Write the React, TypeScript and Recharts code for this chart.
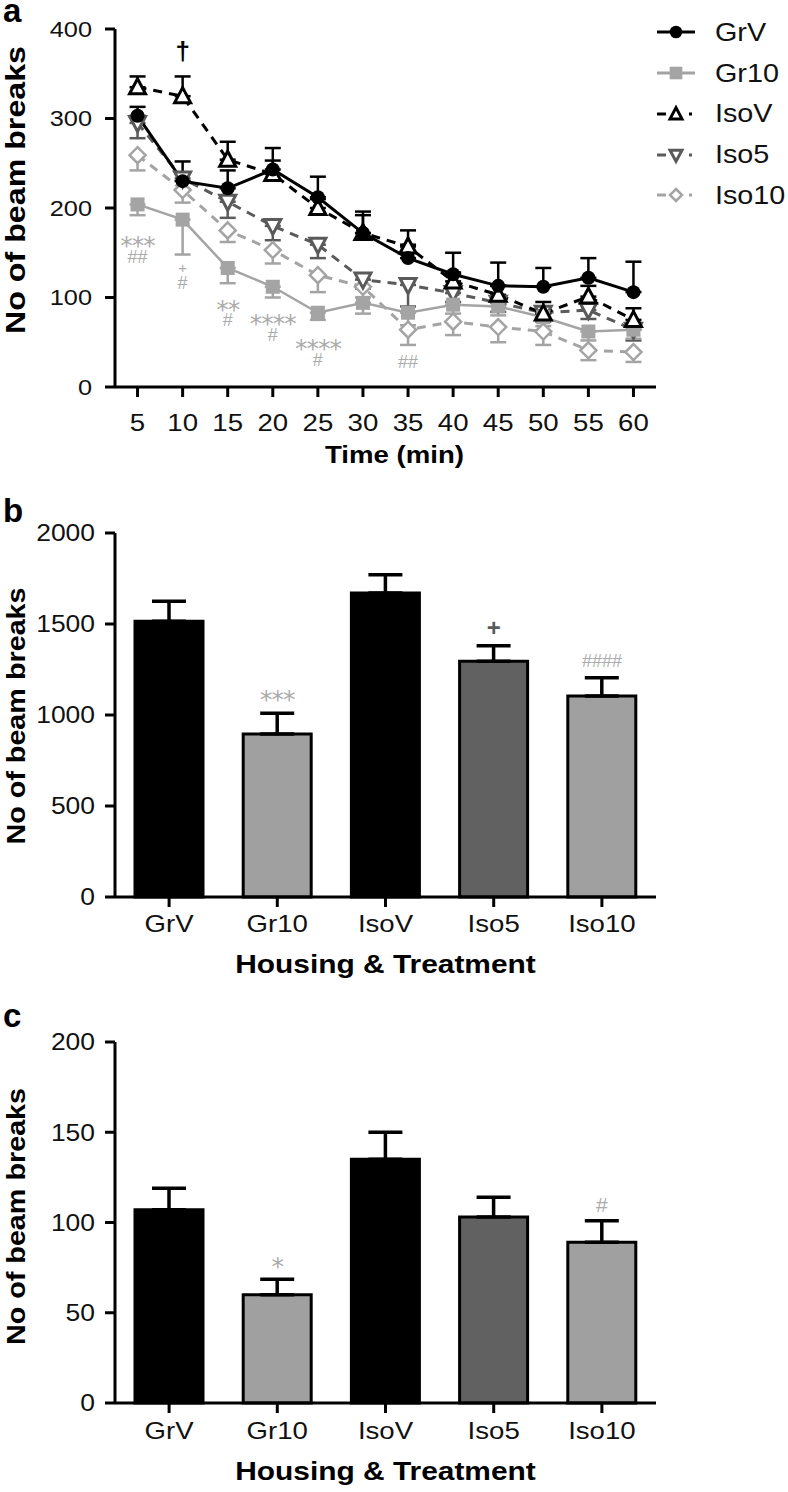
import React from 'react';
import { ComposedChart, Line, Bar, Cell, XAxis, YAxis, ErrorBar, Legend, ReferenceDot } from 'recharts';

const FONT = "'Liberation Sans', Arial, Helvetica, sans-serif";
const STAR_FONT = "'DejaVu Sans', sans-serif";
const SX = 1.15;
const BLACK = '#000000';
const LIGHT = '#a4a4a4';
const DARK = '#5a5a5a';
const ANNO = '#ababab';
const BAR_LIGHT = '#a0a0a0';
const BAR_DARK = '#616161';

// ---------- Panel a: beam breaks per 5-min bin ----------
const times = [5, 10, 15, 20, 25, 30, 35, 40, 45, 50, 55, 60];
const timeTicks = [5, 10, 15, 20, 25, 30, 35, 40, 45, 50, 55, 60];
const yTicksA = [0, 100, 200, 300, 400];

const grV = [303, 230, 222, 243, 212, 172, 144, 126, 113, 112, 122, 106];
const grVErr = [10, 22, 20, 24, 23, 20, 15, 24, 26, 21, 22, 34];
const gr10 = [204, 187, 133, 112, 83, 94, 83, 92, 90, 78, 62, 64];
const gr10Err = [12, 39, 17, 12, 8, 12, 14, 10, 10, 10, 10, 10];
const isoV = [335, 325, 254, 238, 200, 172, 157, 118, 103, 82, 101, 75];
const isoVErr = [12, 22, 20, 15, 10, 24, 18, 10, 10, 13, 12, 13];
const iso5 = [295, 233, 207, 180, 159, 120, 114, 105, 94, 83, 86, 64];
const iso5Err = [17, 12, 18, 16, 15, 10, 24, 10, 10, 10, 10, 12];
const iso10 = [259, 220, 175, 153, 125, 112, 64, 73, 67, 62, 41, 39];
const iso10Err = [17, 14, 13, 15, 19, 12, 17, 15, 17, 15, 11, 11];

// significance marks (top line centred at value, optional second line below)
const annoATimes = [10, 5, 10, 15, 20, 25, 35];
const annoAValues = [374, 165, 133, 94, 78, 50, 29];
const annoATops = ['†', '***', '+', '**', '****', '****', '##'];
const annoABottoms = ['', '##', '#', '#', '#', '#', ''];

// ---------- Panels b & c ----------
const groups = ['GrV', 'Gr10', 'IsoV', 'Iso5', 'Iso10'];
const totalBeams = [1515, 895, 1670, 1295, 1105];
const totalBeamsErr = [110, 115, 100, 85, 100];
const yTicksB = [0, 500, 1000, 1500, 2000];
const annoBGroups = ['Gr10', 'Iso5', 'Iso10'];
const annoBValues = [1121, 1484, 1302];
const annoBTexts = ['***', '+', '####'];

const centreBeams = [107, 60, 135, 103, 89];
const centreBeamsErr = [12, 8.5, 15, 11, 12];
const yTicksC = [0, 50, 100, 150, 200];
const annoCGroups = ['Gr10', 'Iso10'];
const annoCValues = [79, 110];
const annoCTexts = ['*', '#'];

// ---------- styles ----------
type Marker = 'circle' | 'square' | 'triUp' | 'triDown' | 'diamond';
const lineStyles: Record<string, { color: string; dash?: string; marker: Marker; width: number }> = {
  GrV: { color: BLACK, marker: 'circle', width: 3 },
  Gr10: { color: LIGHT, marker: 'square', width: 2.5 },
  IsoV: { color: BLACK, dash: '9 7', marker: 'triUp', width: 3 },
  Iso5: { color: DARK, dash: '9 7', marker: 'triDown', width: 3 },
  Iso10: { color: LIGHT, dash: '9 7', marker: 'diamond', width: 3 },
};
const legendOrder = ['GrV', 'Gr10', 'IsoV', 'Iso5', 'Iso10'];
const drawOrder = ['Iso10', 'Iso5', 'Gr10', 'IsoV', 'GrV'];
const barColors = [BLACK, BAR_LIGHT, BLACK, BAR_DARK, BAR_LIGHT];

const lineData = times.map((t, i) => ({
  t,
  GrV: grV[i], GrV_e: [0, grVErr[i]],
  Gr10: gr10[i], Gr10_e: [gr10Err[i], 0],
  IsoV: isoV[i], IsoV_e: [0, isoVErr[i]],
  Iso5: iso5[i], Iso5_e: [iso5Err[i], 0],
  Iso10: iso10[i], Iso10_e: [iso10Err[i], 0],
}));
const totalData = groups.map((g, i) => ({ g, v: totalBeams[i], e: [0, totalBeamsErr[i]] }));
const centreData = groups.map((g, i) => ({ g, v: centreBeams[i], e: [0, centreBeamsErr[i]] }));

function markerShape(m: Marker, cx: number, cy: number, color: string, key?: string, scale = 1) {
  const s = scale;
  switch (m) {
    case 'circle':
      return <circle key={key} cx={cx} cy={cy} r={7 * s} fill={color} />;
    case 'square':
      return <rect key={key} x={cx - 7 * s} y={cy - 7 * s} width={14 * s} height={14 * s} fill={color} />;
    case 'triUp':
      return <polygon key={key} points={`${cx},${cy - 8.5 * s} ${cx - 8 * s},${cy + 6.5 * s} ${cx + 8 * s},${cy + 6.5 * s}`} fill="#fff" stroke={color} strokeWidth={3} strokeLinejoin="miter" />;
    case 'triDown':
      return <polygon key={key} points={`${cx - 8 * s},${cy - 6.5 * s} ${cx + 8 * s},${cy - 6.5 * s} ${cx},${cy + 8.5 * s}`} fill="#fff" stroke={color} strokeWidth={3} strokeLinejoin="miter" />;
    case 'diamond':
    default:
      return <polygon key={key} points={`${cx},${cy - 8 * s} ${cx + 8 * s},${cy} ${cx},${cy + 8 * s} ${cx - 8 * s},${cy}`} fill="#fff" stroke={color} strokeWidth={2.5} />;
  }
}

const makeDot = (name: string) => (p: any) => {
  const st = lineStyles[name];
  return markerShape(st.marker, p.cx, p.cy, st.color, `${name}-${p.index}`);
};

const yTick = (size: number) => (p: any) => (
  <text
    transform={`translate(${p.x},${p.y + size * 0.36}) scale(${SX},1)`}
    textAnchor="end" fontSize={size} fontFamily={FONT} fill="#111"
  >
    {p.payload.value}
  </text>
);

const xTick = (size: number) => (p: any) => (
  <text
    transform={`translate(${p.x},${p.y + size * 0.72}) scale(${SX},1)`}
    textAnchor="middle" fontSize={size} fontFamily={FONT} fill="#111"
  >
    {p.payload.value}
  </text>
);

const yLabel = (size: number, dy: number, letter: string, letterY: number) => (p: any) => {
  const vb = p.viewBox || {};
  const cy = (vb.y || 0) + (vb.height || 0) / 2 + dy;
  return (
    <g>
      <text
        transform={`translate(25,${cy}) rotate(-90) scale(${SX},1)`}
        textAnchor="middle" fontSize={size} fontWeight={700} fontFamily={FONT} fill="#000"
      >
        No of beam breaks
      </text>
      <text x={3} y={letterY} fontSize={33} fontWeight={700} fontFamily={FONT} fill="#000">{letter}</text>
    </g>
  );
};

const xLabel = (text: string, size: number, dx: number, dyBase: number) => (p: any) => {
  const vb = p.viewBox || {};
  const cx = (vb.x || 0) + (vb.width || 0) / 2 + dx;
  const by = (vb.y || 0) + dyBase;
  return (
    <text
      transform={`translate(${cx},${by}) scale(${SX},1)`}
      textAnchor="middle" fontSize={size} fontWeight={700} fontFamily={FONT} fill="#000"
    >
      {text}
    </text>
  );
};

function annoStyle(text: string, panel: string): { color: string; size: number; bold: boolean } {
  if (text === '†') return { color: BLACK, size: 26, bold: true };
  if (text === '+') return panel === 'a' ? { color: ANNO, size: 15, bold: false } : { color: DARK, size: 24, bold: true };
  if (text.includes('*')) return { color: ANNO, size: 25, bold: false };
  return { color: ANNO, size: panel === 'c' ? 21 : 18, bold: false };
}

function glyphOffset(text: string, size: number) {
  if (text.includes('*')) return 0.6 * size;
  if (text.includes('†')) return 0.3 * size;
  return 0.36 * size;
}

const annoShape = (top: string, bottom: string, panel: string) => (p: any) => {
  const s = annoStyle(top, panel);
  const isStar = top.includes('*');
  const offTop = glyphOffset(top, s.size);
  const bSize = 18;
  const gap = isStar ? 17 : 15;
  const bottomDy = gap + 0.36 * bSize - offTop;
  return (
    <text x={p.cx} y={p.cy + offTop} textAnchor="middle" fill={s.color}>
      <tspan
        fontSize={s.size} fontFamily={isStar ? STAR_FONT : FONT}
        fontWeight={s.bold ? 700 : 400} letterSpacing={isStar ? -1 : 0}
      >
        {top}
      </tspan>
      {bottom ? (
        <tspan x={p.cx} dy={bottomDy} fontSize={bSize} fontFamily={FONT} fill={ANNO}>
          {bottom}
        </tspan>
      ) : null}
    </text>
  );
};

function renderLegend() {
  return (
    <div style={{ fontFamily: FONT }}>
      {legendOrder.map((name) => {
        const st = lineStyles[name];
        const solid = !st.dash;
        return (
          <div key={name} style={{ display: 'flex', alignItems: 'center', height: 40.75 }}>
            <svg width={60} height={30} style={{ display: 'block' }}>
              {solid ? (
                <line x1={2} y1={15} x2={40} y2={15} stroke={st.color} strokeWidth={3} />
              ) : (
                <g>
                  <line x1={2} y1={15} x2={11} y2={15} stroke={st.color} strokeWidth={3} />
                  <line x1={34} y1={15} x2={37} y2={15} stroke={st.color} strokeWidth={3} />
                </g>
              )}
              {markerShape(st.marker, 21, 15, st.color, undefined, name === 'GrV' || name === 'Gr10' ? 0.9 : 0.75)}
            </svg>
            <span style={{ fontSize: 25, color: '#111', display: 'inline-block', transform: `scaleX(${SX})`, transformOrigin: 'left center', lineHeight: 1 }}>
              {name}
            </span>
          </div>
        );
      })}
    </div>
  );
}

const axisLine = { stroke: '#000', strokeWidth: 3 };
const tickLine = { stroke: '#000', strokeWidth: 3 };

function PanelA() {
  return (
    <ComposedChart width={788} height={480} data={lineData} margin={{ top: 29, right: 132, left: 0, bottom: 0 }}>
      <XAxis
        dataKey="t" type="number" domain={[2.5, 62.5]} ticks={timeTicks} interval={0}
        height={93} axisLine={axisLine} tickLine={tickLine} tickSize={10} tickMargin={17}
        tick={xTick(24)} label={xLabel('Time (min)', 24, 9, 76)} allowDataOverflow
      />
      <YAxis
        type="number" domain={[0, 400]} ticks={yTicksA} interval={0} width={115}
        axisLine={axisLine} tickLine={tickLine} tickSize={10} tickMargin={13}
        tick={yTick(22)} label={yLabel(28, -18, 'a', 22)}
      />
      <Legend
        layout="vertical" align="center" verticalAlign="middle"
        wrapperStyle={{ left: 655, top: 12, width: 133 }}
        content={renderLegend}
      />
      {drawOrder.map((name) => {
        const st = lineStyles[name];
        return (
          <Line
            key={name} dataKey={name} type="linear" stroke={st.color} strokeWidth={st.width}
            strokeDasharray={st.dash} dot={makeDot(name)} activeDot={false}
            isAnimationActive={false} legendType="none"
          >
            <ErrorBar dataKey={`${name}_e`} width={8} stroke={st.color} strokeWidth={2.5} direction="y" />
          </Line>
        );
      })}
      {annoATops.map((top, i) => (
        <ReferenceDot
          key={`aa${i}`} x={annoATimes[i]} y={annoAValues[i]} r={0}
          shape={annoShape(top, annoABottoms[i], 'a')} ifOverflow="visible"
        />
      ))}
    </ComposedChart>
  );
}

function BarPanel(props: {
  data: any[]; height: number; top: number; xh: number; domain: [number, number]; ticks: number[];
  letter: string; letterY: number; labelDy: number; xMargin: number; titleBase: number;
  annoGroups: string[]; annoValues: number[]; annoTexts: string[]; panel: string;
}) {
  const p = props;
  return (
    <ComposedChart width={788} height={p.height} data={p.data} margin={{ top: p.top, right: 132, left: 0, bottom: 0 }}>
      <XAxis
        dataKey="g" type="category" height={p.xh} axisLine={axisLine} tickLine={tickLine}
        tickSize={10} tickMargin={p.xMargin} tick={xTick(24)} interval={0}
        label={xLabel('Housing & Treatment', 26, 0, p.titleBase)}
      />
      <YAxis
        type="number" domain={p.domain} ticks={p.ticks} interval={0} width={115}
        axisLine={axisLine} tickLine={tickLine} tickSize={10} tickMargin={10}
        tick={yTick(23)} label={yLabel(25, p.labelDy, p.letter, p.letterY)}
      />
      <Bar dataKey="v" barSize={68} stroke="#000" strokeWidth={3} isAnimationActive={false}>
        {p.data.map((d, i) => (
          <Cell key={d.g} fill={barColors[i]} />
        ))}
        <ErrorBar dataKey="e" width={17} stroke="#000" strokeWidth={3.5} direction="y" />
      </Bar>
      {p.annoTexts.map((text, i) => (
        <ReferenceDot
          key={`an${i}`} x={p.annoGroups[i]} y={p.annoValues[i]} r={0}
          shape={annoShape(text, '', p.panel)} ifOverflow="visible"
        />
      ))}
    </ComposedChart>
  );
}

export default function App() {
  return (
    <div style={{ position: 'absolute', left: 0, top: 0, width: 788, height: 1492, background: '#fff', fontFamily: FONT }}>
      <div style={{ position: 'absolute', left: 0, top: 0 }}>
        <PanelA />
      </div>
      <div style={{ position: 'absolute', left: 0, top: 480 }}>
        <BarPanel
          data={totalData} height={510} top={53} xh={93} domain={[0, 2000]} ticks={yTicksB}
          letter="b" letterY={42} labelDy={1} xMargin={8} titleBase={76}
          annoGroups={annoBGroups} annoValues={annoBValues} annoTexts={annoBTexts} panel="b"
        />
      </div>
      <div style={{ position: 'absolute', left: 0, top: 990 }}>
        <BarPanel
          data={centreData} height={502} top={52} xh={89} domain={[0, 200]} ticks={yTicksC}
          letter="c" letterY={37} labelDy={-6} xMargin={9} titleBase={77}
          annoGroups={annoCGroups} annoValues={annoCValues} annoTexts={annoCTexts} panel="c"
        />
      </div>
    </div>
  );
}
